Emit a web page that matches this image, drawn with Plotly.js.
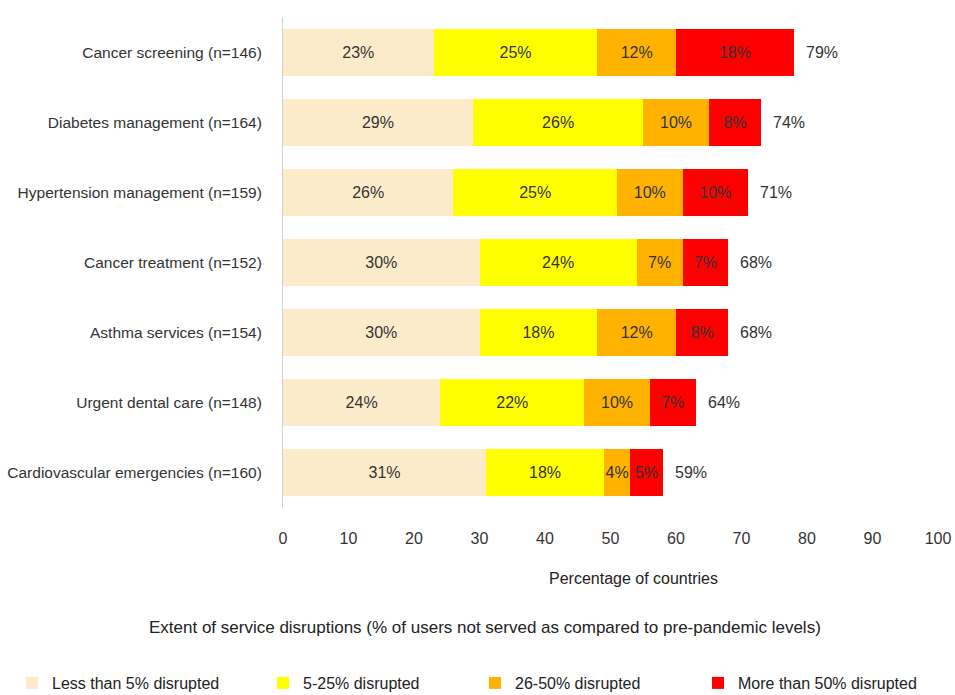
<!DOCTYPE html>
<html>
<head>
<meta charset="utf-8">
<script src="https://cdn.plot.ly/plotly-3.0.1.min.js"></script>
<style>
html,body{margin:0;padding:0;background:#fff;}
#chart{width:955px;height:695px;}
</style>
</head>
<body>
<div id="chart"></div>
<script>
const categories = [
  "Cancer screening (n=146)",
  "Diabetes management (n=164)",
  "Hypertension management (n=159)",
  "Cancer treatment (n=152)",
  "Asthma services (n=154)",
  "Urgent dental care (n=148)",
  "Cardiovascular emergencies (n=160)"
];
const lessThan5 = [23, 29, 26, 30, 30, 24, 31];
const from5to25 = [25, 26, 25, 24, 18, 22, 18];
const from26to50 = [12, 10, 10, 7, 12, 10, 4];
const moreThan50 = [18, 8, 10, 7, 8, 7, 5];
const totalLabels = [79, 74, 71, 68, 68, 64, 59];
const seriesNames = ["Less than 5% disrupted", "5-25% disrupted", "26-50% disrupted", "More than 50% disrupted"];
const xTicks = [0, 10, 20, 30, 40, 50, 60, 70, 80, 90, 100];

const FONT = "'Liberation Sans', Arial, sans-serif";
const colors = ["#FCEBCB", "#FFFF00", "#FFB200", "#FF0000"];
const seriesData = [lessThan5, from5to25, from26to50, moreThan50];
const legendIds = ["legend", "legend2", "legend3", "legend4"];

const traces = seriesData.map((vals, i) => ({
  type: "bar",
  orientation: "h",
  name: seriesNames[i],
  y: categories,
  x: vals,
  marker: {color: colors[i], line: {width: 0}},
  text: vals.map(v => v + "%"),
  textposition: "inside",
  insidetextanchor: "middle",
  textangle: 0,
  constraintext: "none",
  textfont: {family: FONT, size: 16, color: "#333333"},
  hoverinfo: "skip",
  legend: legendIds[i]
}));

const sums = categories.map((c, k) => seriesData.reduce((s, arr) => s + arr[k], 0));
const plotH = 695 - 17 - 187;
const annotations = categories.map((c, k) => ({
  x: sums[k], y: c, xref: "x", yref: "y",
  text: totalLabels[k] + "%", showarrow: false,
  xanchor: "left", xshift: 10,
  font: {family: FONT, size: 16, color: "#333333"}
}));
annotations.push({
  x: 0.535, y: (508 - 578) / plotH, xref: "paper", yref: "paper",
  text: "Percentage of countries", showarrow: false,
  xanchor: "center", yanchor: "middle",
  font: {family: FONT, size: 16, color: "#222222"}
});
annotations.push({
  x: (485 - 283) / 655, y: (508 - 628) / plotH, xref: "paper", yref: "paper",
  text: "Extent of service disruptions (% of users not served as compared to pre-pandemic levels)",
  showarrow: false, xanchor: "center", yanchor: "middle",
  font: {family: FONT, size: 17, color: "#222222"}
});

const layout = {
  width: 955, height: 695,
  margin: {l: 283, r: 17, t: 17, b: 187, autoexpand: false},
  paper_bgcolor: "#ffffff", plot_bgcolor: "#ffffff",
  barmode: "stack",
  bargap: 0.33,
  font: {family: FONT, size: 16, color: "#333333"},
  xaxis: {
    range: [0, 100], tickvals: xTicks, ticktext: xTicks.map(String),
    showgrid: false, zeroline: false, showline: false, ticks: "",
    ticklabelstandoff: 19,
    tickfont: {family: FONT, size: 16, color: "#333333"},
    fixedrange: true
  },
  yaxis: {
    autorange: "reversed", showgrid: false, zeroline: false,
    showline: true, linecolor: "#d0d0d0", linewidth: 1,
    ticks: "", ticklabelstandoff: 17,
    tickfont: {family: FONT, size: 15.5, color: "#333333"},
    fixedrange: true
  },
  showlegend: true,
  annotations: annotations
};
const legendPx = [12, 263, 475, 698];
legendIds.forEach((id, i) => {
  layout[id] = {
    x: legendPx[i] / 955, y: (508 - 683) / plotH, xref: "container", yref: "paper",
    xanchor: "left", yanchor: "middle",
    orientation: "h", bgcolor: "rgba(0,0,0,0)",
    font: {family: FONT, size: 16, color: "#222222"},
    itemwidth: 30
  };
});

Plotly.newPlot("chart", traces, layout, {displayModeBar: false, staticPlot: true});
</script>
</body>
</html>
